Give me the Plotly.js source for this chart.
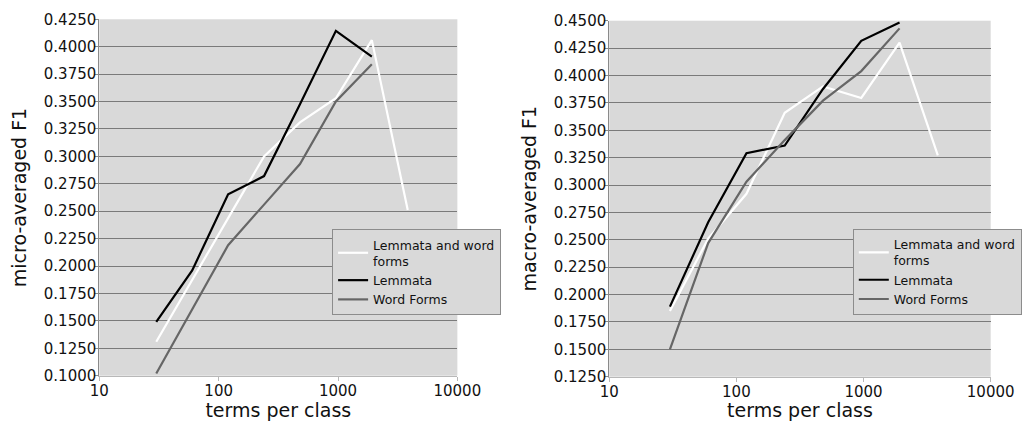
<!DOCTYPE html>
<html>
<head>
<meta charset="utf-8">
<script src="https://cdn.plot.ly/plotly-3.0.1.min.js"></script>
<style>html,body{margin:0;padding:0;background:#fff;overflow:hidden;}#chart{width:1025px;height:421px;}</style>
</head>
<body>
<div id="chart"></div>
<script>
// terms per class (x values)
const termsPerClass = [30, 60, 120, 240, 480, 960, 1920, 3840];

// micro-averaged F1 (left panel)
const microBoth     = [0.131, 0.187, 0.244, 0.300, 0.331, 0.353, 0.406, 0.251];
const microLemmata  = [0.149, 0.196, 0.2655, 0.282, 0.3475, 0.4145, 0.391];
const microWordForm = [0.102, 0.161, 0.219, 0.256, 0.293, 0.350, 0.384];

// macro-averaged F1 (right panel)
const macroBoth     = [0.185, 0.251, 0.292, 0.366, 0.390, 0.3795, 0.430, 0.327];
const macroLemmata  = [0.189, 0.266, 0.329, 0.336, 0.3877, 0.4317, 0.4483];
const macroWordForm = [0.150, 0.247, 0.303, 0.341, 0.377, 0.404, 0.443];

const seriesNames = ["Lemmata and word<br>forms", "Lemmata", "Word Forms"];
const xTickVals = [10, 100, 1000, 10000];
const xTickText = ["10", "100", "1000", "10000"];
const xTitle = "terms per class";
const yTitleLeft = "micro-averaged F1";
const yTitleRight = "macro-averaged F1";

const colors = ["#ffffff", "#000000", "#666666"];
const FONT = "DejaVu Sans, Verdana, sans-serif";

function mk(y, i, xa, ya, leg) {
  return {
    x: termsPerClass.slice(0, y.length), y: y,
    type: "scatter", mode: "lines", name: seriesNames[i],
    line: {color: colors[i], width: 2.2},
    xaxis: xa, yaxis: ya, legend: leg, hoverinfo: "skip"
  };
}

const data = [
  mk(microBoth, 0, "x", "y", "legend"),
  mk(microLemmata, 1, "x", "y", "legend"),
  mk(microWordForm, 2, "x", "y", "legend"),
  mk(macroBoth, 0, "x2", "y2", "legend2"),
  mk(macroLemmata, 1, "x2", "y2", "legend2"),
  mk(macroWordForm, 2, "x2", "y2", "legend2")
];

const xCommon = {
  type: "log", range: [1, 4], tickvals: xTickVals, ticktext: xTickText,
  showgrid: false, zeroline: false, showline: true, linecolor: "#b8b8b8", linewidth: 1,
  ticks: "outside", ticklen: 4, tickcolor: "#b8b8b8", ticklabelstandoff: -3,
  tickfont: {family: FONT, size: 15, color: "#111"},
  title: {text: xTitle, font: {family: FONT, size: 19, color: "#111"}, standoff: 8}
};
function yCommon(range, title, dom) {
  return {
    range: range, dtick: 0.025, tick0: 0, tickformat: ".4f", domain: dom,
    showgrid: true, gridcolor: "#7a7a7a", gridwidth: 1, zeroline: false,
    showline: true, linecolor: "#8a8a8a", linewidth: 1,
    ticks: "outside", ticklen: 4, tickcolor: "#8a8a8a", ticklabelstandoff: -5,
    tickfont: {family: FONT, size: 15, color: "#111"},
    title: {text: title, font: {family: FONT, size: 19, color: "#111"}, standoff: 12}
  };
}
const legCommon = {
  bgcolor: "#d9d9d9", bordercolor: "#8c8c8c", borderwidth: 1,
  font: {family: FONT, size: 12.5, color: "#111"},
  xanchor: "left", yanchor: "top", tracegroupgap: 0, itemwidth: 30
};

const layout = {
  width: 1025, height: 421,
  margin: {l: 0, r: 0, t: 0, b: 0, autoexpand: false},
  paper_bgcolor: "#ffffff",
  plot_bgcolor: "#d9d9d9",
  showlegend: true,
  xaxis: Object.assign({}, xCommon, {domain: [0.0969, 0.4462], anchor: "y"}),
  yaxis: Object.assign(yCommon([0.1, 0.425], yTitleLeft, [0.1076, 0.9542]), {anchor: "x"}),
  xaxis2: Object.assign({}, xCommon, {domain: [0.5944, 0.9665], anchor: "y2"}),
  yaxis2: Object.assign(yCommon([0.125, 0.45], yTitleRight, [0.1052, 0.9508]), {anchor: "x2"}),
  legend: Object.assign({}, legCommon, {x: 0.324, y: 0.456}),
  legend2: Object.assign({}, legCommon, {x: 0.832, y: 0.457})
};

Plotly.newPlot("chart", data, layout, {staticPlot: true, displayModeBar: false});
</script>
</body>
</html>
